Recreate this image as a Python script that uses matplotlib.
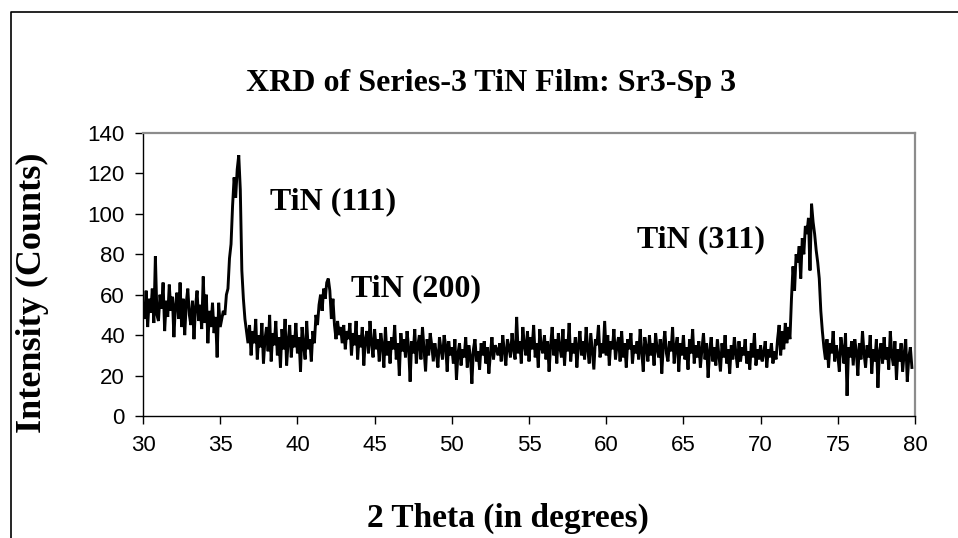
import numpy as np
import matplotlib
matplotlib.use('Agg')
from matplotlib import pyplot as plt
from matplotlib.lines import Line2D

# scan start / step (degrees 2-theta)
theta_start = 30.0
theta_step = 0.1

# counts, one row per degree (30.0 .. 79.8)
counts = [
    55, 48, 62, 44, 58, 51, 63, 46, 79, 50,   # 30
    47, 60, 53, 66, 42, 57, 49, 65, 52, 59,   # 31
    39, 55, 61, 48, 66, 44, 58, 40, 56, 63,   # 32
    50, 45, 57, 38, 54, 62, 47, 55, 43, 69,   # 33
    46, 60, 36, 52, 44, 56, 41, 49, 29, 56,   # 34
    44, 48, 52, 50, 60, 63, 78, 85, 104, 118, # 35
    108, 122, 129, 112, 72, 58, 48, 42, 36, 45, # 36
    30, 42, 36, 48, 28, 40, 34, 46, 26, 38,   # 37
    44, 32, 50, 27, 41, 35, 47, 30, 39, 24,   # 38
    43, 33, 48, 25, 37, 45, 29, 40, 34, 46,   # 39
    31, 39, 22, 44, 35, 28, 47, 33, 38, 27,   # 40
    42, 36, 50, 45, 55, 60, 52, 63, 58, 66,   # 41
    68, 62, 48, 58, 45, 38, 47, 40, 44, 36,   # 42
    45, 33, 42, 38, 46, 30, 41, 35, 47, 28,   # 43
    40, 34, 44, 25, 38, 42, 31, 47, 36, 29,   # 44
    43, 33, 38, 27, 41, 35, 24, 44, 30, 37,   # 45
    26, 39, 33, 45, 28, 36, 20, 41, 32, 38,   # 46
    29, 42, 34, 17, 37, 31, 43, 26, 35, 40,   # 47
    28, 44, 33, 22, 38, 30, 41, 35, 27, 36,   # 48
    31, 24, 39, 33, 28, 40, 35, 22, 37, 30,   # 49
    34, 26, 38, 18, 31, 36, 25, 33, 29, 39,   # 50
    24, 35, 30, 16, 33, 38, 27, 32, 23, 36,   # 51
    30, 37, 26, 34, 21, 31, 39, 28, 35, 33,   # 52
    30, 36, 27, 40, 32, 25, 38, 34, 29, 41,   # 53
    33, 28, 49, 31, 37, 26, 44, 35, 30, 42,   # 54
    27, 39, 33, 45, 29, 36, 24, 43, 34, 31,   # 55
    40, 28, 37, 22, 35, 44, 30, 38, 26, 41,   # 56
    34, 29, 43, 25, 38, 32, 46, 27, 36, 31,   # 57
    39, 24, 35, 42, 30, 37, 28, 44, 33, 26,   # 58
    41, 32, 23, 38, 35, 45, 29, 36, 31, 47,   # 59
    30, 40, 25, 37, 33, 43, 28, 35, 39, 27,   # 60
    42, 29, 36, 24, 38, 33, 41, 26, 35, 31,   # 61
    37, 28, 43, 32, 22, 39, 34, 27, 40, 30,   # 62
    36, 25, 41, 33, 29, 38, 21, 35, 42, 31,   # 63
    27, 37, 32, 44, 26, 34, 39, 22, 36, 30,   # 64
    40, 28, 34, 23, 38, 31, 43, 26, 35, 29,   # 65
    37, 24, 33, 41, 28, 36, 19, 32, 39, 27,   # 66
    34, 25, 38, 30, 22, 36, 29, 40, 26, 33,   # 67
    21, 35, 28, 39, 31, 24, 37, 27, 34, 30,   # 68
    38, 26, 32, 23, 36, 29, 41, 25, 33, 28,   # 69
    35, 27, 31, 37, 24, 33, 29, 36, 26, 32,   # 70
    28, 38, 45, 30, 42, 33, 46, 36, 44, 38,   # 71
    58, 74, 62, 80, 76, 84, 68, 88, 80, 94,   # 72
    90, 98, 72, 105, 96, 90, 82, 76, 68, 52,  # 73
    42, 34, 28, 38, 24, 36, 31, 42, 27, 35,   # 74
    30, 22, 39, 33, 26, 41, 10, 34, 29, 37,   # 75
    25, 38, 32, 20, 36, 28, 42, 31, 24, 35,   # 76
    29, 40, 21, 33, 27, 38, 14, 32, 36, 26,   # 77
    39, 28, 34, 23, 42, 30, 25, 37, 18, 33,   # 78
    27, 36, 22, 31, 38, 17, 29, 34, 24,       # 79
]

peak_labels = ['TiN (111)', 'TiN (200)', 'TiN (311)']
peak_label_pos = [(38.2, 106), (43.5, 63), (62.0, 87)]

xticks = list(range(30, 81, 5))
yticks = list(range(0, 141, 20))

theta = np.round(theta_start + theta_step * np.arange(len(counts)), 2)

serif = ['Liberation Serif', 'DejaVu Serif']
sans = ['Liberation Sans', 'DejaVu Sans']

fig = plt.figure(figsize=(9.58, 5.38), dpi=100)
ax = fig.add_axes([0.1493, 0.2268, 0.8058, 0.526])

ax.plot(theta, counts, color='black', lw=2.1, solid_joinstyle='miter')
ax.set_xlim(30, 80)
ax.set_ylim(0, 140)
ax.set_xticks(xticks)
ax.set_yticks(yticks)
for lbl in ax.get_xticklabels() + ax.get_yticklabels():
    lbl.set_family(sans)
    lbl.set_fontsize(16)
ax.tick_params(axis='x', direction='out', length=6, width=1, pad=8)
ax.tick_params(axis='y', direction='out', length=6, width=1, pad=7)

for side in ['left', 'bottom']:
    ax.spines[side].set_color('black')
    ax.spines[side].set_linewidth(1.0)
for side in ['top', 'right']:
    ax.spines[side].set_color('#8c8c8c')
    ax.spines[side].set_linewidth(1.6)

for txt, (px, py) in zip(peak_labels, peak_label_pos):
    ax.text(px, py, txt, family=serif, fontweight='bold', fontsize=23, va='center', ha='left')

fig.text(0.5125, 1 - 83 / 538, 'XRD of Series-3 TiN Film: Sr3-Sp 3', family=serif,
         fontweight='bold', fontsize=23, ha='center', va='center')
fig.text(0.034, 1 - 293 / 538, 'Intensity (Counts)', family=serif, fontweight='bold',
         fontsize=26, rotation=90, ha='center', va='center')
fig.text(508 / 958, 1 - 527 / 538, '2 Theta (in degrees)', family=serif, fontweight='bold',
         fontsize=24, ha='center', va='baseline')

# chart area border, only the top and left edges fall inside the image
fig.add_artist(Line2D([11 / 958, 11 / 958, 1.0], [0.0, 1 - 12 / 538, 1 - 12 / 538],
                      transform=fig.transFigure, color='black', lw=1.2))

fig.savefig('out.png', dpi=100)
